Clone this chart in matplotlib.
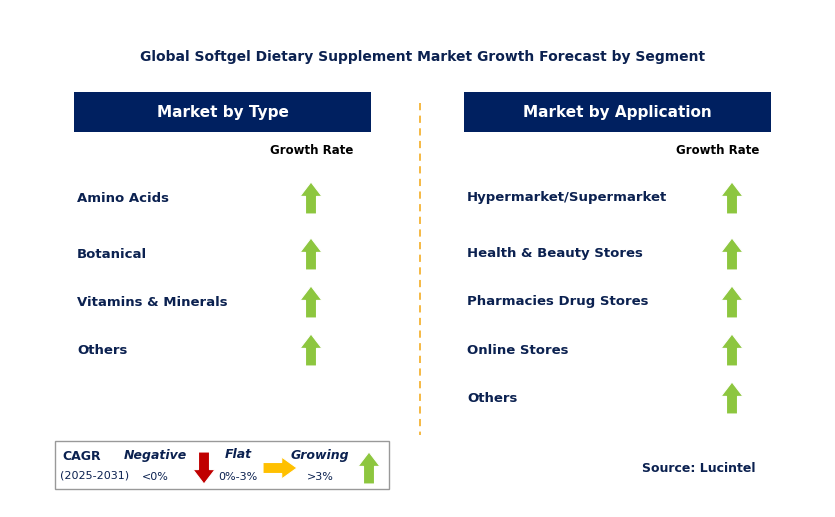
import matplotlib.pyplot as plt
from matplotlib.patches import Rectangle, Polygon

title = "Global Softgel Dietary Supplement Market Growth Forecast by Segment"
type_labels = ["Amino Acids", "Botanical", "Vitamins & Minerals", "Others"]
type_growth = ["up", "up", "up", "up"]
app_labels = ["Hypermarket/Supermarket", "Health & Beauty Stores", "Pharmacies Drug Stores",
              "Online Stores", "Others"]
app_growth = ["up", "up", "up", "up", "up"]
row_y = [198, 254, 302, 350, 398]

navy = "#0b2150"
green = "#8dc63f"
fig = plt.figure(figsize=(8.35, 5.17), dpi=100)
ax = fig.add_axes([0, 0, 1, 1])
ax.set_xlim(0, 835)
ax.set_ylim(517, 0)
ax.axis("off")


def arrow(cx, cy, kind, w=22, h=32):
    hw, sw, hl = w / 2, w / 4, h * 0.45
    # up-pointing shape relative to centre (dx, dy)
    base = [(0, -h / 2), (hw, -h / 2 + hl), (sw, -h / 2 + hl), (sw, h / 2),
            (-sw, h / 2), (-sw, -h / 2 + hl), (-hw, -h / 2 + hl)]
    if kind == "up":
        pts = [(cx + dx, cy + dy) for dx, dy in base]
        col = green
    elif kind == "down":
        pts = [(cx + dx, cy - dy) for dx, dy in base]
        col = "#c00000"
    else:  # right
        pts = [(cx - dy, cy + dx) for dx, dy in base]
        col = "#ffc000"
    ax.add_patch(Polygon(pts, closed=True, facecolor=col, edgecolor="white", lw=0.8))


ax.text(423, 57, title, ha="center", va="center", fontsize=10, fontweight="bold", color=navy)

for x0, x1, head, labels, growth, ax_x, gr_x in [
        (74, 371, "Market by Type", type_labels, type_growth, 311, 312),
        (464, 771, "Market by Application", app_labels, app_growth, 732, 718)]:
    ax.add_patch(Rectangle((x0, 92), x1 - x0, 40, facecolor="#002060", edgecolor="none"))
    ax.text((x0 + x1) / 2, 112, head, ha="center", va="center", fontsize=11,
            fontweight="bold", color="white")
    ax.text(gr_x, 151, "Growth Rate", ha="center", va="center", fontsize=8.5,
            fontweight="bold", color="black")
    for i, (lab, g) in enumerate(zip(labels, growth)):
        ax.text(x0 + 3, row_y[i], lab, ha="left", va="center", fontsize=9.5,
                fontweight="bold", color=navy)
        arrow(ax_x, row_y[i], g)

ax.plot([420, 420], [103, 435], ls=(0, (4, 3)), color="#f5b335", lw=1.3)

# legend
ax.add_patch(Rectangle((55, 441), 334, 48, facecolor="white", edgecolor="#999999", lw=1))
ax.text(62, 457, "CAGR", fontsize=9, fontweight="bold", color=navy, va="center")
ax.text(60, 476, "(2025-2031)", fontsize=8, color=navy, va="center")
for x, top, bot in [(155, "Negative", "<0%"), (238, "Flat", "0%-3%"), (320, "Growing", ">3%")]:
    ax.text(x, 455, top, fontsize=9, fontweight="bold", style="italic", color=navy,
            ha="center", va="center")
    ax.text(x, 477, bot, fontsize=8, color=navy, ha="center", va="center")
arrow(204, 468, "down")
arrow(280, 468, "right", w=22, h=34)
arrow(369, 468, "up")

ax.text(755, 468, "Source: Lucintel", ha="right", va="center", fontsize=9,
        fontweight="bold", color=navy)

fig.savefig("out.png", dpi=100)
